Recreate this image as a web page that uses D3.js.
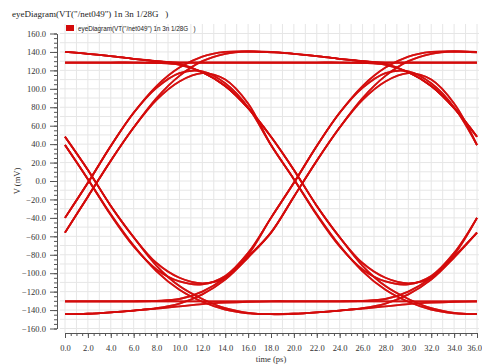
<!DOCTYPE html>
<html><head><meta charset="utf-8">
<script src="https://cdn.jsdelivr.net/npm/d3@7"></script>
<style>body{margin:0;background:#fff}svg{display:block}text{white-space:pre}</style>
</head><body><svg id="c" width="482" height="364"></svg>
<script>
const titleText = 'eyeDiagram(VT("/net049") 1n 3n 1/28G   )';
const legendText = 'eyeDiagram(VT("/net049") 1n 3n 1/28G   )';
const xTickValues = [0,2,4,6,8,10,12,14,16,18,20,22,24,26,28,30,32,34,36];
const yTickValues = [-160,-140,-120,-100,-80,-60,-40,-20,0,20,40,60,80,100,120,140,160];
// sample offsets (ps) after each crossing, crossings at -16, 2, 20 ps
const sampleOffsets = [0,2,4,6,8,10,12,14,16,18];
const crossingTimes = [-16, 2, 20];
// segment shapes (mV), keyed by previous-previous bit, previous bit, current bit, next bit
const RS_L = [-17, 22, 58, 90, 114, 130, 138, 140.5, 140, 138];
const RS_S = [-2, 38, 74, 103, 123, 135, 140, 140.5, 139.5, 138];
const RF_L = [-17, 22, 58, 88, 108, 117, 110, 84, 39, 2];
const RF_S = [-2, 38, 74, 101, 117, 119, 106, 80, 39, 2];
const HS_F = [138, 135.5, 132.5, 130, 128.5, 128.5, 128.5, 128.5, 128.5, 128.5];
const HS_L = [128.5, 128.5, 128.5, 128.5, 128.5, 128.5, 128.5, 128.5, 128.5, 128.5];
const HF_F = [138, 135.5, 132.5, 130, 127, 118, 103, 79, 48, 12];
const HF_L = [128.5, 128.5, 128.5, 128, 126, 118, 103, 79, 48, 12];
const FS_L = [12, -27, -61, -92, -114, -128, -138, -143, -144.5, -144];
const FS_S = [2, -36, -70, -98, -118, -131, -139.5, -143.5, -144.5, -144];
const FR_L = [12, -27, -61, -89, -105, -111, -105, -80, -40, -2];
const FR_S = [2, -37, -71, -96, -109, -112, -103, -78, -40, -2];
const LS_F = [-144, -142.5, -140.5, -138.5, -136, -133.5, -132, -131, -130.5, -130.5];
const LS_L = [-130.5, -130.5, -130.5, -130.5, -130.5, -130.5, -130.5, -130.5, -130.5, -130.5];
const LR_F = [-144, -142.5, -140.5, -138, -133, -123, -107, -83, -56, -17];
const LR_L = [-130.5, -130.5, -130.5, -130, -128, -120, -105, -82, -56, -17];
// bit patterns of the overlaid traces
const bitPatterns = ["00000","00001","00010","00011","00100","00101","00110","00111",
  "01000","01001","01010","01011","01100","01101","01110","01111",
  "10000","10001","10010","10011","10100","10101","10110","10111",
  "11000","11001","11010","11011","11100","11101","11110","11111"];

const segTable = {
  "0011": RS_L, "1011": RS_S, "0010": RF_L, "1010": RF_S,
  "0111": HS_F, "1111": HS_L, "0110": HF_F, "1110": HF_L,
  "1100": FS_L, "0100": FS_S, "1101": FR_L, "0101": FR_S,
  "1000": LS_F, "0000": LS_L, "1001": LR_F, "0001": LR_L
};

function tracePoints(p) {
  const Z = p[0], A = p[1], B = p[2], C = p[3], D = p[4];
  const pts = [];
  const s0 = segTable[Z + Z + A + B];
  pts.push([crossingTimes[0] + sampleOffsets[8], s0[8]]);
  const s1 = segTable[Z + A + B + C];
  for (let i = 0; i <= 9; i++) pts.push([crossingTimes[1] + sampleOffsets[i], s1[i]]);
  const s2 = segTable[A + B + C + D];
  for (let i = 1; i <= 8; i++) pts.push([crossingTimes[2] + sampleOffsets[i], s2[i]]);
  return pts;
}

const svg = d3.select("#c");
const x = d3.scaleLinear().domain([0, 36]).range([65, 477]);
const y = d3.scaleLinear().domain([-160, 160]).range([328.5, 33.5]);

// grid
const g = svg.append("g");
g.selectAll("line.vg").data(d3.range(0, 37, 1)).enter().append("line")
  .attr("x1", d => x(d)).attr("x2", d => x(d)).attr("y1", 24).attr("y2", 333)
  .attr("stroke", "#e6e6e6").attr("stroke-width", 1);
g.selectAll("line.hg").data(d3.range(-160, 161, 10)).enter().append("line")
  .attr("x1", 60).attr("x2", 479).attr("y1", d => y(d)).attr("y2", d => y(d))
  .attr("stroke", "#e6e6e6").attr("stroke-width", 1);

// traces
const line = d3.line().x(d => x(d[0])).y(d => y(d[1])).curve(d3.curveCatmullRom.alpha(0.5));
svg.append("g").selectAll("path").data(bitPatterns).enter().append("path")
  .attr("d", d => line(tracePoints(d)))
  .attr("fill", "none").attr("stroke", "#d40a0a").attr("stroke-width", 1.8)
  .attr("stroke-opacity", 0.85);

// axes
const fmt = d3.format(".1f");
const yAxis = d3.axisLeft(y).tickValues(yTickValues).tickFormat(fmt).tickSize(7).tickSizeOuter(0).tickPadding(4);
const ya = svg.append("g").attr("transform", "translate(57,0)").call(yAxis);
const yMinor = d3.axisLeft(y).tickValues(d3.range(-160, 161, 5)).tickFormat("").tickSize(3).tickSizeOuter(0);
svg.append("g").attr("transform", "translate(57,0)").call(yMinor);
const xAxis = d3.axisBottom(x).tickValues(xTickValues).tickFormat(fmt).tickSize(5).tickSizeOuter(0).tickPadding(7);
const xa = svg.append("g").attr("transform", "translate(0,333)").call(xAxis);
const xMinor = d3.axisBottom(x).tickValues(d3.range(0, 36.01, 0.5)).tickFormat("").tickSize(3).tickSizeOuter(0);
svg.append("g").attr("transform", "translate(0,333)").call(xMinor);
svg.selectAll(".domain").attr("stroke", "#555");
svg.selectAll(".tick line").attr("stroke", "#555");
[ya, xa].forEach(a => a.selectAll("text").attr("font-family", "Liberation Serif, serif").attr("font-size", 8.5).attr("fill", "#333"));
// keep the last x label inside the window
xa.selectAll(".tick text").filter(d => d === 36).attr("text-anchor", "end").attr("x", 4.5);

// titles and labels
svg.append("text").attr("x", 12).attr("y", 17).text(titleText)
  .attr("font-family", "Liberation Serif, serif").attr("font-size", 9).attr("fill", "#222");
svg.append("rect").attr("x", 66).attr("y", 25).attr("width", 8).attr("height", 6).attr("fill", "#d40a0a");
svg.append("text").attr("x", 78).attr("y", 31).text(legendText)
  .attr("font-family", "Liberation Sans, sans-serif").attr("font-size", 6.3).attr("fill", "#222");
svg.append("text").attr("transform", "translate(20,181) rotate(-90)").attr("text-anchor", "middle")
  .text("V (mV)").attr("font-family", "Liberation Serif, serif").attr("font-size", 8.5).attr("fill", "#333");
svg.append("text").attr("x", 271).attr("y", 362).attr("text-anchor", "middle")
  .text("time (ps)").attr("font-family", "Liberation Serif, serif").attr("font-size", 8.5).attr("fill", "#333");
</script></body></html>
